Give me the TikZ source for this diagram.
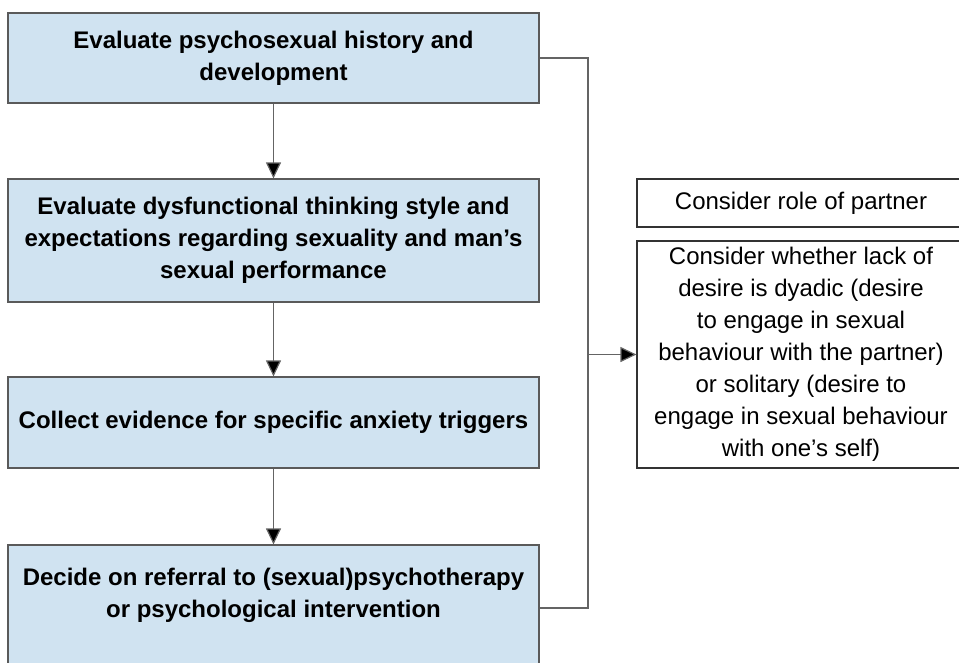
\documentclass[tikz,border=0pt]{standalone}
\usepackage{fontspec}
\setmainfont{Liberation Sans}
\usetikzlibrary{positioning, arrows.meta}
\definecolor{boxblue}{RGB}{208,227,241}
\definecolor{boxline}{RGB}{90,90,90}
\definecolor{linkgray}{RGB}{100,100,100}
\tikzset{
	stepbox/.style={draw=boxline, fill=boxblue, line width=1.2pt, minimum width=531pt, align=center, font=\fontsize{24}{32}\selectfont\bfseries},
	notebox/.style={draw=black!80, line width=1.2pt, minimum width=328pt, align=center, font=\fontsize{24}{32}\selectfont},
	link/.style={draw=linkgray, line width=1.2pt},
	arr/.style={link, -{Triangle[length=16pt, width=15pt, fill=black]}}
}

\begin{document}
\begin{tikzpicture}[x=1pt, y=-1pt]
		      \useasboundingbox (0,0) rectangle (959,662);
		      \node[stepbox, minimum height=90pt] (history) at (273.5, 58) {Evaluate psychosexual history and\\development};
		      \node[stepbox, minimum height=123pt] (thinking) at (273.5, 240.5) {Evaluate dysfunctional thinking style and\\expectations regarding sexuality and man's\\sexual performance};
		      \node[stepbox, minimum height=91pt] (triggers) at (273.5, 422.5) {Collect evidence for specific anxiety triggers};
		      \node[stepbox, minimum height=126pt, text depth=30pt] (referral) at (273.5, 608) {Decide on referral to (sexual)psychotherapy\\or psychological intervention};
		      \node[notebox, minimum height=48pt] (partner) at (801, 203) {Consider role of partner};
		      \node[notebox, minimum height=227pt] (desire) at (801, 354.5) {Consider whether lack of\\desire is dyadic (desire\\to engage in sexual\\behaviour with the partner)\\or solitary (desire to\\engage in sexual behaviour\\with one's self)};
		      \coordinate (jtop) at (588, 58);
		      \coordinate (jmid) at (588, 354.5);
		      \coordinate (jbot) at (588, 608);
		      \draw[arr] (history) -- (thinking);
		      \draw[arr] (thinking) -- (triggers);
		      \draw[arr] (triggers) -- (referral);
		      \draw[link] (history.east) -- (jtop) -- (jbot) -- (referral.east);
		      \draw[arr] (jmid) -- (desire.west);

	      \end{tikzpicture}
\end{document}
